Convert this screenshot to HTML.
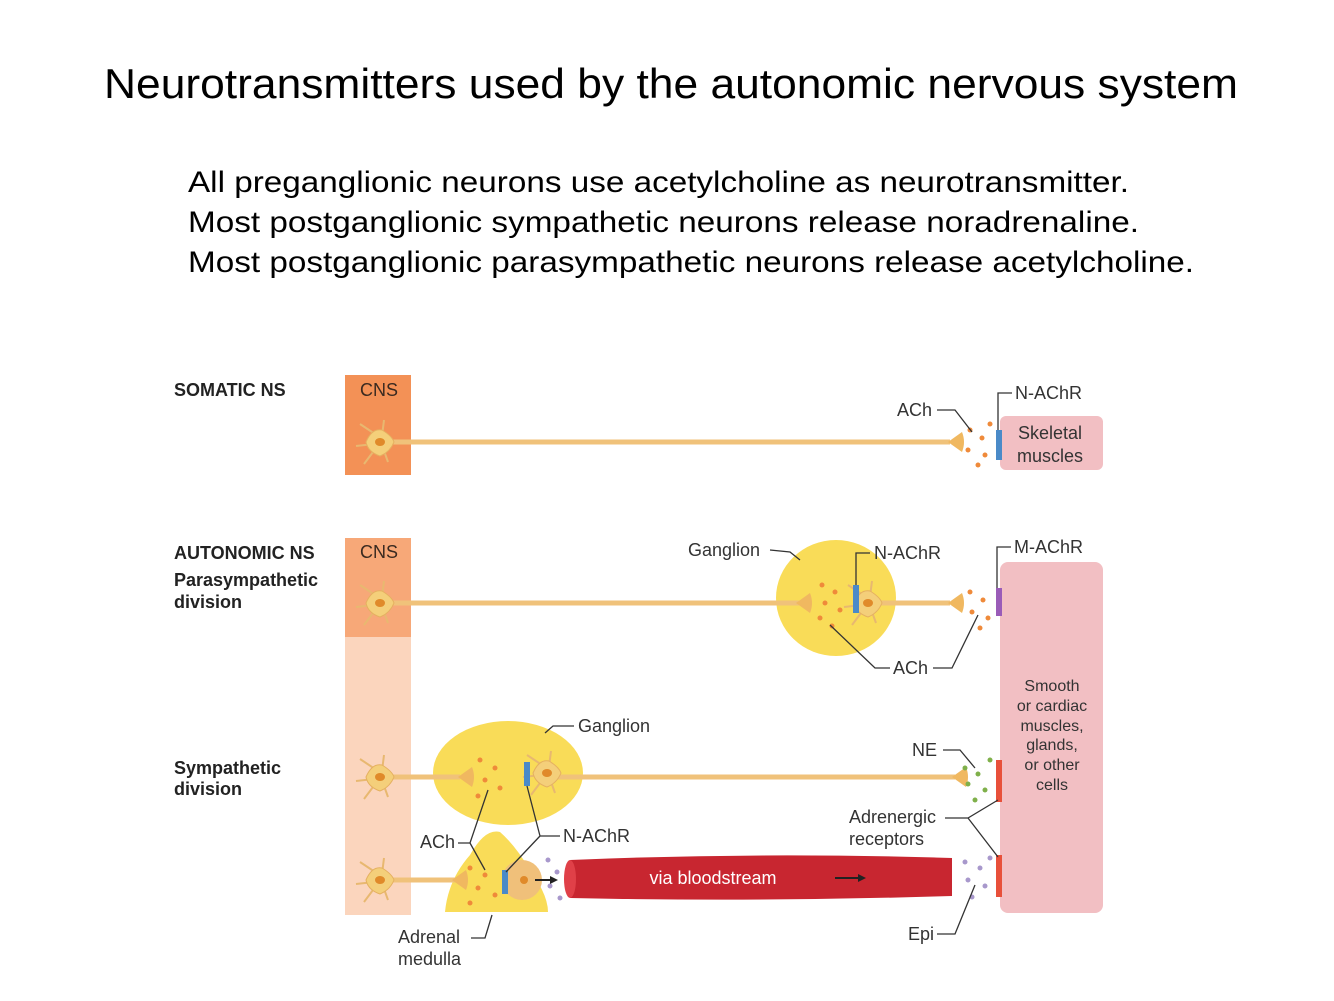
<!DOCTYPE html>
<html><head><meta charset="utf-8"><style>
html,body{margin:0;padding:0;background:#fff;}
svg{display:block;}
text{font-family:"Liberation Sans",Arial,sans-serif;}
</style></head><body>
<svg width="1334" height="1001" viewBox="0 0 1334 1001" xmlns="http://www.w3.org/2000/svg">
<defs>
<g id="neuron">
 <path d="M-18,-18 L0,-6 M-22,4 L-4,2 M-14,22 L-2,6 M6,-22 L4,-6 M10,20 L5,6" stroke="#e8b870" stroke-width="2" fill="none"/>
 <path d="M-12,0 Q-6,-14 4,-12 Q14,-6 16,0 Q12,10 2,14 Q-10,10 -12,0Z" fill="#f4cf7a" stroke="#e5b060" stroke-width="1"/>
 <ellipse cx="2" cy="0" rx="5" ry="4" fill="#e08a2a"/>
</g>
<g id="term"><path d="M0,0 L14,-10 Q18,0 14,10Z" fill="#f0b860"/></g>
</defs>
<text x="671" y="98" font-size="42" text-anchor="middle" textLength="1134" lengthAdjust="spacingAndGlyphs">Neurotransmitters used by the autonomic nervous system</text>
<g font-size="30">
<text x="188" y="192" textLength="941" lengthAdjust="spacingAndGlyphs">All preganglionic neurons use acetylcholine as neurotransmitter.</text>
<text x="188" y="232" textLength="951" lengthAdjust="spacingAndGlyphs">Most postganglionic sympathetic neurons release noradrenaline.</text>
<text x="188" y="272" textLength="1006" lengthAdjust="spacingAndGlyphs">Most postganglionic parasympathetic neurons release acetylcholine.</text>
</g>
<!-- left labels -->
<g font-size="18" font-weight="bold" fill="#222">
<text x="174" y="396">SOMATIC NS</text>
<text x="174" y="559">AUTONOMIC NS</text>
<text x="174" y="586">Parasympathetic</text>
<text x="174" y="608">division</text>
<text x="174" y="774">Sympathetic</text>
<text x="174" y="795">division</text>
</g>
<!-- CNS boxes -->
<rect x="345" y="375" width="66" height="100" fill="#f39156"/>
<rect x="345" y="538" width="66" height="99" fill="#f7a878"/>
<rect x="345" y="637" width="66" height="278" fill="#fbd5bd"/>
<g font-size="18" fill="#3a2a20"><text x="360" y="396">CNS</text><text x="360" y="558">CNS</text></g>
<!-- target tissues -->
<rect x="1000" y="416" width="103" height="54" rx="6" fill="#f2bfc3"/>
<text x="1050" y="439" font-size="18" text-anchor="middle" fill="#333">Skeletal</text>
<text x="1050" y="462" font-size="18" text-anchor="middle" fill="#333">muscles</text>
<rect x="1000" y="562" width="103" height="351" rx="8" fill="#f2bfc3"/>
<g font-size="16" text-anchor="middle" fill="#333">
<text x="1052" y="691">Smooth</text><text x="1052" y="711">or cardiac</text><text x="1052" y="731">muscles,</text><text x="1052" y="750">glands,</text><text x="1052" y="770">or other</text><text x="1052" y="790">cells</text>
</g>
<!-- ganglia -->
<ellipse cx="836" cy="598" rx="60" ry="58" fill="#f9dc58"/>
<ellipse cx="508" cy="773" rx="75" ry="52" fill="#f9dc58"/>
<path d="M445,912 Q448,880 470,855 Q485,828 500,832 Q515,845 530,870 Q548,895 548,912Z" fill="#f9dc58"/>
<!-- axons -->
<g stroke="#f0c27a" stroke-width="5" fill="none">
<line x1="390" y1="442" x2="950" y2="442"/>
<line x1="390" y1="603" x2="800" y2="603"/>
<line x1="870" y1="603" x2="950" y2="603"/>
<line x1="390" y1="777" x2="460" y2="777"/>
<line x1="555" y1="777" x2="955" y2="777"/>
<line x1="390" y1="880" x2="455" y2="880"/>
</g>
<g>
<use href="#term" x="948" y="442"/>
<use href="#term" x="796" y="603"/>
<use href="#term" x="948" y="603"/>
<use href="#term" x="458" y="777"/>
<use href="#term" x="952" y="777"/>
<use href="#term" x="452" y="880"/>
</g>
<use href="#neuron" x="378" y="442"/>
<use href="#neuron" x="378" y="603"/>
<use href="#neuron" x="378" y="777"/>
<use href="#neuron" x="378" y="880"/>
<use href="#neuron" x="866" y="603"/>
<use href="#neuron" x="545" y="773"/>
<circle cx="522" cy="880" r="20" fill="#f0c07a"/><circle cx="524" cy="880" r="4" fill="#e08a2a"/>
<!-- dots -->
<g fill="#ef8a3a">
<circle cx="970" cy="430" r="2.5"/><circle cx="982" cy="438" r="2.5"/><circle cx="968" cy="450" r="2.5"/><circle cx="985" cy="455" r="2.5"/><circle cx="978" cy="465" r="2.5"/><circle cx="990" cy="424" r="2.5"/>
<circle cx="822" cy="585" r="2.5"/><circle cx="835" cy="592" r="2.5"/><circle cx="825" cy="603" r="2.5"/><circle cx="840" cy="610" r="2.5"/><circle cx="820" cy="618" r="2.5"/><circle cx="832" cy="626" r="2.5"/>
<circle cx="970" cy="592" r="2.5"/><circle cx="983" cy="600" r="2.5"/><circle cx="972" cy="612" r="2.5"/><circle cx="988" cy="618" r="2.5"/><circle cx="980" cy="628" r="2.5"/>
<circle cx="480" cy="760" r="2.5"/><circle cx="495" cy="768" r="2.5"/><circle cx="485" cy="780" r="2.5"/><circle cx="500" cy="788" r="2.5"/><circle cx="478" cy="796" r="2.5"/>
<circle cx="470" cy="868" r="2.5"/><circle cx="485" cy="875" r="2.5"/><circle cx="478" cy="888" r="2.5"/><circle cx="495" cy="895" r="2.5"/><circle cx="470" cy="903" r="2.5"/>
</g>
<g fill="#7fb04a"><circle cx="965" cy="768" r="2.5"/><circle cx="978" cy="774" r="2.5"/><circle cx="968" cy="784" r="2.5"/><circle cx="985" cy="790" r="2.5"/><circle cx="975" cy="800" r="2.5"/><circle cx="990" cy="760" r="2.5"/></g>
<g fill="#a898cc"><circle cx="548" cy="860" r="2.5"/><circle cx="557" cy="872" r="2.5"/><circle cx="550" cy="886" r="2.5"/><circle cx="560" cy="898" r="2.5"/>
<circle cx="965" cy="862" r="2.5"/><circle cx="980" cy="868" r="2.5"/><circle cx="968" cy="880" r="2.5"/><circle cx="985" cy="886" r="2.5"/><circle cx="972" cy="897" r="2.5"/><circle cx="990" cy="858" r="2.5"/></g>
<!-- receptors -->
<g fill="#4a8ac8"><rect x="996" y="430" width="6" height="30"/><rect x="853" y="585" width="6" height="28"/><rect x="524" y="762" width="6" height="24"/><rect x="502" y="870" width="6" height="24"/></g>
<g fill="#9a5cb8"><rect x="996" y="588" width="6" height="28"/></g>
<g fill="#e8503a"><rect x="996" y="760" width="6" height="42"/><rect x="996" y="855" width="6" height="42"/></g>
<!-- blood vessel -->
<path d="M570,860 Q760,852 952,858 L952,896 Q760,902 570,898Z" fill="#c82630"/>
<ellipse cx="570" cy="879" rx="6" ry="19" fill="#e04048"/>
<text x="713" y="884" font-size="18" fill="#fff" text-anchor="middle">via bloodstream</text>
<line x1="835" y1="878" x2="858" y2="878" stroke="#222" stroke-width="2"/><path d="M858,874 L866,878 L858,882Z" fill="#222"/>
<line x1="535" y1="880" x2="550" y2="880" stroke="#222" stroke-width="2"/><path d="M550,876 L558,880 L550,884Z" fill="#222"/>
<!-- labels & leaders -->
<g font-size="18" fill="#333">
<text x="897" y="416">ACh</text>
<text x="1015" y="399">N-AChR</text>
<text x="688" y="556">Ganglion</text>
<text x="874" y="559">N-AChR</text>
<text x="1014" y="553">M-AChR</text>
<text x="893" y="674">ACh</text>
<text x="578" y="732">Ganglion</text>
<text x="912" y="756">NE</text>
<text x="849" y="823">Adrenergic</text>
<text x="849" y="845">receptors</text>
<text x="420" y="848">ACh</text>
<text x="563" y="842">N-AChR</text>
<text x="398" y="943">Adrenal</text>
<text x="398" y="965">medulla</text>
<text x="908" y="940">Epi</text>
</g>
<g stroke="#333" stroke-width="1.3" fill="none">
<path d="M937,410 L955,410 L972,432"/>
<path d="M1012,393 L998,393 L998,430"/>
<path d="M770,550 L790,552 L800,560"/>
<path d="M870,553 L856,553 L856,585"/>
<path d="M1011,547 L997,547 L997,588"/>
<path d="M890,668 L875,668 L830,625"/>
<path d="M933,668 L952,668 L978,615"/>
<path d="M574,726 L553,726 L545,733"/>
<path d="M943,750 L960,750 L975,768"/>
<path d="M945,818 L968,818 L998,800 M968,818 L998,857"/>
<path d="M458,843 L470,843 L488,790 M470,843 L485,870"/>
<path d="M560,836 L540,836 L527,786 M540,836 L506,872"/>
<path d="M471,938 L485,938 L492,915"/>
<path d="M937,934 L955,934 L975,885"/>
</g>
</svg>
</body></html>
